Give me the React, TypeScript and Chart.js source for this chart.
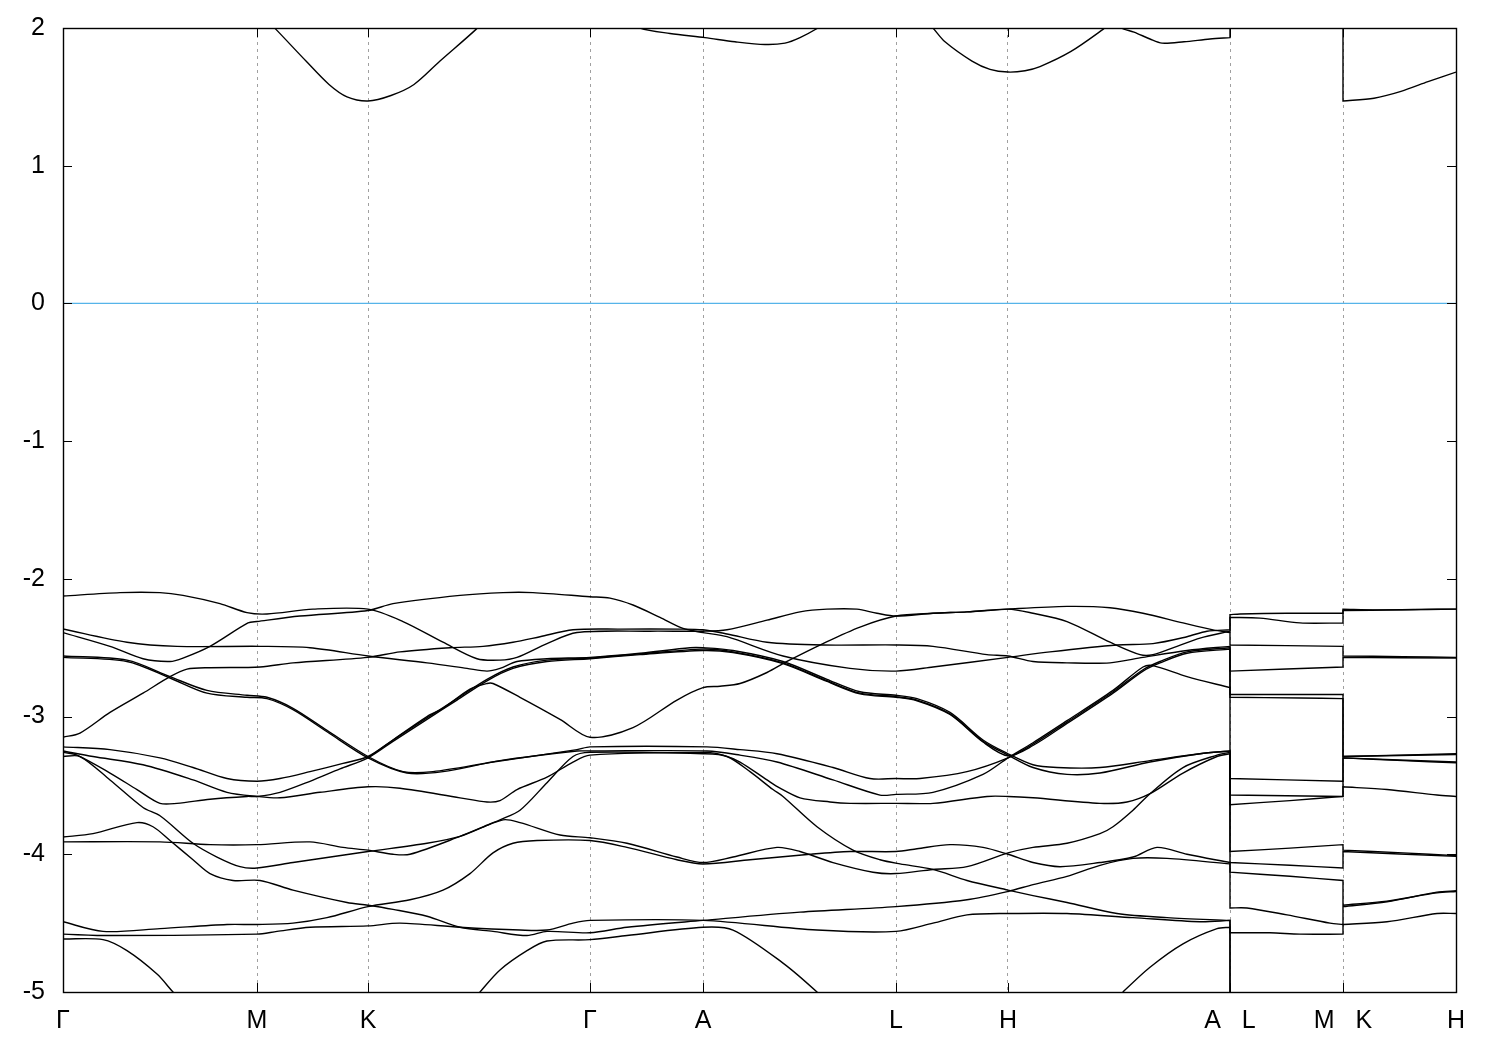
import React, { useEffect, useRef } from 'react';
import { Chart, registerables } from 'chart.js';

Chart.register(...registerables);

type Pt = [number, number];

// k-path positions of the high-symmetry points and their labels
const symK = [0, 0.97, 1.525, 2.635, 3.2, 4.165, 4.725, 5.835, 6.4, 6.965];
const symLabels = ['Γ', 'M', 'K', 'Γ', 'A', 'L', 'H', 'A   L', 'M   K', 'H'];
const yTickValues = [-5, -4, -3, -2, -1, 0, 1, 2];

// Valence bands (k, E in eV)
const band01: Pt[] = [
  [0, -2.125], [0.285, -2.1], [0.485, -2.1], [0.6, -2.12], [0.785, -2.18], [0.92, -2.245], [1.02, -2.255], [1.25, -2.22], [1.525, -2.22],
  [1.7, -2.31], [1.9, -2.46], [2.07, -2.58], [2.185, -2.59], [2.27, -2.57], [2.42, -2.47], [2.57, -2.39], [2.935, -2.38], [3.2, -2.38],
  [3.32, -2.37], [3.52, -2.3], [3.685, -2.24], [3.82, -2.22], [3.97, -2.22], [4.07, -2.25], [4.165, -2.27],
  [4.35, -2.25], [4.52, -2.24], [4.725, -2.22],
  [5.02, -2.2], [5.235, -2.21], [5.4, -2.25], [5.6, -2.32], [5.75, -2.37], [5.835, -2.39],
  [5.835, -2.48], [6.4, -2.49], [6.4, -2.56], [6.7, -2.565], [6.965, -2.57],
];
const band02: Pt[] = [
  [0, -2.39], [0.235, -2.49], [0.4, -2.58], [0.535, -2.6], [0.6, -2.575], [0.735, -2.49], [0.925, -2.32], [0.97, -2.31], [1.185, -2.27], [1.525, -2.23],
  [1.65, -2.18], [1.985, -2.12], [2.2, -2.1], [2.35, -2.1], [2.635, -2.13], [2.735, -2.14], [2.85, -2.19], [2.985, -2.28], [3.1, -2.36], [3.2, -2.39],
  [3.32, -2.42], [3.6, -2.56], [3.935, -2.65], [4.165, -2.67],
  [4.35, -2.64], [4.725, -2.57],
  [4.935, -2.53], [5.27, -2.48], [5.45, -2.47], [5.62, -2.42], [5.72, -2.38], [5.835, -2.37],
  [5.835, -2.26], [5.885, -2.255], [6.12, -2.25], [6.4, -2.25], [6.4, -2.22], [6.57, -2.225], [6.87, -2.22], [6.965, -2.22],
];
const band03: Pt[] = [
  [0, -2.364], [0.32, -2.46], [0.57, -2.49], [0.985, -2.49], [1.235, -2.5], [1.525, -2.56],
  [1.82, -2.61], [2.02, -2.65], [2.12, -2.67], [2.185, -2.65], [2.27, -2.6], [2.42, -2.58], [2.635, -2.57],
  [2.885, -2.54], [3.135, -2.5], [3.2, -2.5],
  [3.35, -2.52], [3.6, -2.6], [3.82, -2.73], [3.985, -2.82], [4.165, -2.845],
  [4.27, -2.87], [4.435, -2.97], [4.6, -3.17], [4.725, -3.27],
  [4.85, -3.35], [4.97, -3.37], [5.185, -3.37], [5.435, -3.32], [5.685, -3.27], [5.835, -3.25],
  [5.835, -3.57], [6.4, -3.58], [6.4, -3.3], [6.7, -3.32], [6.965, -3.335],
];
const band04: Pt[] = [
  [0, -3.15], [0.085, -3.12], [0.235, -2.97], [0.4, -2.83], [0.535, -2.71], [0.62, -2.655], [0.735, -2.645], [0.985, -2.64], [1.15, -2.61], [1.525, -2.57],
  [1.685, -2.53], [1.935, -2.5], [2.1, -2.49], [2.25, -2.46], [2.385, -2.42], [2.55, -2.37], [2.785, -2.365], [3.085, -2.365], [3.2, -2.37],
  [3.32, -2.4], [3.52, -2.46], [3.8, -2.48], [4.165, -2.48],
  [4.35, -2.49], [4.62, -2.55], [4.725, -2.56],
  [4.85, -2.6], [5.02, -2.61], [5.235, -2.61], [5.4, -2.57], [5.62, -2.52], [5.835, -2.49],
  [5.835, -2.67], [6.4, -2.64], [6.4, -2.57], [6.965, -2.575],
];
const band05: Pt[] = [
  [0, -2.56], [0.32, -2.59], [0.535, -2.71], [0.72, -2.81], [0.92, -2.845], [1.02, -2.86], [1.15, -2.94], [1.32, -3.1], [1.525, -3.29],
  [1.7, -3.4], [1.85, -3.4], [2.15, -3.33], [2.57, -3.24], [2.635, -3.22],
  [3.22, -3.22],
  [3.385, -3.24], [3.57, -3.27], [3.85, -3.37], [4.035, -3.45], [4.165, -3.45],
  [4.285, -3.45], [4.52, -3.4], [4.725, -3.3],
  [4.85, -3.2], [5.02, -3.04], [5.25, -2.82], [5.4, -2.66], [5.485, -2.6], [5.62, -2.53], [5.835, -2.5],
  [5.835, -2.84], [6.4, -2.84], [6.4, -3.29], [6.965, -3.27],
];
const band06: Pt[] = [
  [0, -2.57], [0.32, -2.6], [0.535, -2.72], [0.72, -2.83], [0.92, -2.86], [1.02, -2.87], [1.15, -2.95], [1.32, -3.11], [1.525, -3.3],
  [1.72, -3.41], [1.9, -3.4], [2.185, -3.32], [2.57, -3.25], [2.635, -3.25],
  [3.22, -3.25],
  [3.385, -3.28], [3.57, -3.33], [3.85, -3.46], [4.085, -3.57], [4.165, -3.565],
  [4.35, -3.55], [4.6, -3.42], [4.725, -3.3],
  [4.85, -3.19], [5.02, -3.03], [5.25, -2.81], [5.4, -2.64], [5.45, -2.63], [5.62, -2.71], [5.835, -2.79],
  [5.835, -3.45], [6.4, -3.47], [6.4, -3.3], [6.965, -3.33],
];
const band07: Pt[] = [
  [0, -3.22], [0.235, -3.24], [0.485, -3.3], [0.65, -3.37], [0.82, -3.45], [0.97, -3.47], [1.085, -3.45], [1.235, -3.4], [1.4, -3.34], [1.525, -3.29],
  [1.65, -3.17], [1.82, -3.01], [1.97, -2.87], [2.12, -2.73], [2.25, -2.64], [2.42, -2.59], [2.635, -2.575],
  [2.885, -2.545], [3.2, -2.51],
  [3.35, -2.53], [3.6, -2.61], [3.82, -2.74], [3.985, -2.83], [4.165, -2.855],
  [4.27, -2.88], [4.435, -2.98], [4.6, -3.18], [4.725, -3.28],
  [4.85, -3.37], [5.02, -3.42], [5.185, -3.41], [5.435, -3.33], [5.685, -3.27], [5.835, -3.25],
  [5.835, -3.64], [6.135, -3.61], [6.4, -3.58], [6.4, -3.51], [6.62, -3.53], [6.87, -3.57], [6.965, -3.58],
];
const band08: Pt[] = [
  [0, -3.25], [0.15, -3.29], [0.4, -3.35], [0.65, -3.46], [0.82, -3.55], [0.97, -3.58], [1.085, -3.59], [1.285, -3.55], [1.525, -3.51],
  [1.685, -3.52], [1.985, -3.59], [2.12, -3.62], [2.185, -3.61], [2.27, -3.53], [2.42, -3.44], [2.55, -3.33], [2.635, -3.28],
  [3.22, -3.26],
  [3.3, -3.28], [3.385, -3.33], [3.52, -3.46], [3.585, -3.52], [3.685, -3.59], [3.835, -3.62], [3.935, -3.63], [4.165, -3.63],
  [4.35, -3.63], [4.62, -3.58], [4.725, -3.58],
  [4.85, -3.59], [5.185, -3.63], [5.32, -3.62], [5.435, -3.56], [5.6, -3.41], [5.77, -3.29], [5.835, -3.27],
  [5.835, -4.06], [6.135, -4.08], [6.4, -4.1], [6.4, -3.98], [6.965, -4.015],
];
const band09: Pt[] = [
  [0, -3.26], [0.07, -3.28], [0.235, -3.41], [0.37, -3.53], [0.485, -3.63], [0.57, -3.63], [0.735, -3.6], [0.92, -3.58], [0.97, -3.58], [1.085, -3.55], [1.235, -3.47], [1.385, -3.38], [1.525, -3.3],
  [1.65, -3.18], [1.82, -3.02], [1.97, -2.88], [2.12, -2.74], [2.25, -2.65], [2.42, -2.6], [2.635, -2.58],
  [2.885, -2.55], [3.2, -2.52],
  [3.35, -2.535], [3.6, -2.615], [3.82, -2.745], [3.985, -2.835], [4.165, -2.86],
  [4.27, -2.885], [4.435, -2.985], [4.6, -3.185], [4.725, -3.285],
  [4.85, -3.21], [5.02, -3.05], [5.25, -2.83], [5.4, -2.67], [5.485, -2.61], [5.62, -2.54], [5.835, -2.51],
  [5.835, -2.86], [6.185, -2.865], [6.4, -2.87], [6.4, -3.29], [6.965, -3.275],
];
const band10: Pt[] = [
  [0, -3.29], [0.085, -3.29], [0.235, -3.46], [0.4, -3.66], [0.485, -3.72], [0.65, -3.92], [0.77, -4.02], [0.885, -4.09], [0.97, -4.1], [1.15, -4.06], [1.525, -3.98],
  [1.82, -3.92], [1.985, -3.87], [2.2, -3.75], [2.285, -3.77], [2.485, -3.86], [2.635, -3.88],
  [2.82, -3.92], [3.07, -4.02], [3.2, -4.06],
  [3.35, -4.02], [3.57, -3.95], [3.685, -3.98], [3.85, -4.06], [4.05, -4.13], [4.165, -4.14],
  [4.35, -4.11], [4.52, -4.09], [4.725, -3.99],
  [4.85, -3.95], [5.02, -3.92], [5.185, -3.85], [5.25, -3.8], [5.35, -3.68], [5.435, -3.56], [5.6, -3.37], [5.77, -3.28], [5.835, -3.26],
  [5.835, -3.98], [6.135, -3.955], [6.4, -3.93], [6.4, -3.97], [6.7, -3.99], [6.965, -4.01],
];
const band11: Pt[] = [
  [0, -3.875], [0.15, -3.85], [0.37, -3.77], [0.45, -3.8], [0.535, -3.9], [0.65, -4.04], [0.735, -4.14], [0.85, -4.19], [0.985, -4.19], [1.15, -4.26], [1.42, -4.35], [1.525, -4.37],
  [1.65, -4.4], [1.82, -4.45], [1.985, -4.53], [2.15, -4.56], [2.32, -4.59], [2.42, -4.56], [2.635, -4.57],
  [2.82, -4.53], [3.2, -4.48],
  [3.685, -4.42], [4.165, -4.38],
  [4.52, -4.33], [4.725, -4.27],
  [4.85, -4.22], [5.02, -4.16], [5.185, -4.08], [5.35, -4.03], [5.52, -4.03], [5.835, -4.07],
  [5.835, -4.39], [5.92, -4.39], [6.12, -4.44], [6.335, -4.5], [6.4, -4.51], [6.4, -4.38], [6.62, -4.345], [6.87, -4.275], [6.965, -4.265],
];
const band12: Pt[] = [
  [0, -3.91], [0.485, -3.91], [0.735, -3.93], [0.97, -3.93], [1.235, -3.91], [1.4, -3.95], [1.525, -3.97],
  [1.65, -4.0], [1.735, -4.0], [1.985, -3.87], [2.135, -3.78], [2.185, -3.75], [2.285, -3.68], [2.42, -3.48], [2.55, -3.29], [2.635, -3.26],
  [3.2, -3.27],
  [3.32, -3.29], [3.435, -3.4], [3.55, -3.53], [3.6, -3.58], [3.77, -3.8], [3.95, -3.97], [4.085, -4.04], [4.185, -4.07],
  [4.35, -4.11], [4.52, -4.19], [4.725, -4.26],
  [4.85, -4.3], [5.02, -4.35], [5.27, -4.43], [5.52, -4.46], [5.835, -4.48],
  [5.835, -4.57], [6.035, -4.57], [6.185, -4.58], [6.4, -4.58], [6.4, -4.51], [6.62, -4.49], [6.87, -4.43], [6.965, -4.43],
];
const band13: Pt[] = [
  [0, -4.49], [0.2, -4.56], [0.485, -4.54], [0.82, -4.51], [0.97, -4.51], [1.15, -4.5], [1.32, -4.46], [1.525, -4.38],
  [1.735, -4.33], [1.9, -4.26], [2.035, -4.14], [2.15, -3.99], [2.25, -3.92], [2.37, -3.9], [2.635, -3.9],
  [2.82, -3.95], [3.07, -4.04], [3.2, -4.07],
  [3.435, -4.04], [3.735, -4.0], [3.935, -3.98], [4.165, -3.98],
  [4.27, -3.96], [4.435, -3.93], [4.6, -3.95], [4.725, -4.0],
  [4.85, -4.06], [4.985, -4.09], [5.185, -4.06], [5.35, -4.02], [5.47, -3.95], [5.62, -4.0], [5.835, -4.06],
  [5.835, -4.13], [6.135, -4.16], [6.4, -4.19], [6.4, -4.37], [6.62, -4.34], [6.87, -4.28], [6.965, -4.27],
];
const band14: Pt[] = [
  [0, -4.58], [0.235, -4.59], [0.97, -4.58], [1.07, -4.56], [1.235, -4.53], [1.525, -4.52],
  [1.685, -4.5], [1.985, -4.53], [2.285, -4.55], [2.42, -4.55], [2.55, -4.5], [2.635, -4.48],
  [3.2, -4.48],
  [3.77, -4.55], [4.165, -4.56],
  [4.35, -4.5], [4.52, -4.44], [4.725, -4.43],
  [5.02, -4.43], [5.35, -4.46], [5.685, -4.49], [5.835, -4.48],
  [5.835, -5.4],
];
const band15: Pt[] = [
  [0, -4.615], [0.2, -4.62], [0.32, -4.7], [0.47, -4.87], [0.55, -5.0], [0.635, -5.13], [2.01, -5.13], [2.085, -5.0], [2.185, -4.84], [2.32, -4.7], [2.42, -4.63], [2.635, -4.62],
  [2.82, -4.59], [3.2, -4.53],
  [3.35, -4.55], [3.6, -4.79], [3.77, -5.0], [3.835, -5.1], [5.235, -5.1], [5.3, -5.0], [5.435, -4.82], [5.6, -4.65], [5.77, -4.54], [5.835, -4.53],
  [5.835, -5.4],
];
const band16: Pt[] = [
  [1.525, -3.3], [1.65, -3.17], [1.82, -3.0], [1.9, -2.94], [2.035, -2.8], [2.12, -2.76], [2.15, -2.76], [2.285, -2.86], [2.485, -3.02], [2.635, -3.15], [2.85, -3.08], [3.07, -2.88], [3.2, -2.79],
  [3.285, -2.78], [3.385, -2.76], [3.52, -2.68], [3.62, -2.6], [3.8, -2.47], [3.985, -2.35], [4.165, -2.27],
  [4.35, -2.25], [4.52, -2.24], [4.725, -2.22],
  [4.85, -2.25], [5.02, -2.31], [5.235, -2.46], [5.385, -2.55], [5.45, -2.55], [5.57, -2.49], [5.685, -2.43], [5.835, -2.38],
  [5.835, -2.28], [5.985, -2.285], [6.185, -2.32], [6.4, -2.32], [6.4, -2.23], [6.685, -2.225], [6.965, -2.22],
];

// Conduction bands
const cond1: Pt[] = [
  [0.97, 2.13], [1.065, 1.99], [1.215, 1.76], [1.33, 1.59], [1.42, 1.5], [1.525, 1.47], [1.64, 1.51], [1.755, 1.59], [1.885, 1.76], [2.065, 1.99], [2.16, 2.13],
];
const cond2: Pt[] = [
  [2.76, 2.1], [2.885, 2.0], [3.035, 1.96], [3.21, 1.93], [3.36, 1.9], [3.51, 1.88], [3.61, 1.89], [3.685, 1.93], [3.775, 2.0], [3.835, 2.06],
];
const cond3: Pt[] = [
  [4.285, 2.1], [4.35, 2.0], [4.41, 1.9], [4.545, 1.76], [4.635, 1.7], [4.725, 1.68], [4.81, 1.69], [4.885, 1.72], [5.04, 1.83], [5.2, 1.99], [5.26, 2.06],
];
const cond4: Pt[] = [
  [5.235, 2.06], [5.29, 2.0], [5.355, 1.97], [5.435, 1.92], [5.495, 1.89], [5.605, 1.9], [5.735, 1.92], [5.835, 1.93],
  [5.835, 2.5], [6.4, 2.5], [6.4, 1.47], [6.555, 1.49], [6.69, 1.54], [6.825, 1.61], [6.965, 1.68],
];

const fermiLevel: Pt[] = [[0, 0], [6.965, 0]];

const bands = [band01, band02, band03, band04, band05, band06, band07, band08, band09, band10, band11, band12, band13, band14, band15, band16, cond1, cond2, cond3, cond4];

const FONT = "'Liberation Sans Narrow', 'Liberation Sans', Arial, sans-serif";

// Repeat the two end points of every vertical jump so the smoothed curve keeps the jump straight
function toSeries(b: Pt[]) {
  const out: { x: number; y: number }[] = [];
  for (let i = 0; i < b.length; i++) {
    const [x, y] = b[i];
    const jumpNext = i + 1 < b.length && b[i + 1][0] === x;
    const jumpPrev = i > 0 && b[i - 1][0] === x;
    out.push({ x, y });
    if (jumpNext || jumpPrev) out.push({ x, y });
  }
  return out;
}

const framePlugin = {
  id: 'gnuFrame',
  afterDraw(chart: any) {
    const { ctx, chartArea, scales } = chart;
    const { left, right, top, bottom } = chartArea;
    const tl = 9;
    ctx.save();
    ctx.strokeStyle = '#000';
    ctx.lineWidth = 1;
    ctx.beginPath();
    for (const v of yTickValues) {
      const py = Math.round(scales.y.getPixelForValue(v)) + 0.5;
      ctx.moveTo(left, py); ctx.lineTo(left + tl, py);
      ctx.moveTo(right, py); ctx.lineTo(right - tl, py);
    }
    for (const v of symK) {
      const px = Math.round(scales.x.getPixelForValue(v)) + 0.5;
      ctx.moveTo(px, bottom); ctx.lineTo(px, bottom - tl);
      ctx.moveTo(px, top); ctx.lineTo(px, top + tl);
    }
    ctx.stroke();
    ctx.lineWidth = 1.4;
    ctx.strokeRect(left + 0.5, top + 0.5, right - left, bottom - top);
    ctx.restore();
  },
};

export default function App() {
  const ref = useRef<HTMLCanvasElement | null>(null);
  useEffect(() => {
    if (!ref.current) return;
    const datasets: any[] = bands.map((b) => ({
      data: toSeries(b),
      borderColor: '#000',
      borderWidth: 1.4,
      pointRadius: 0,
      tension: 0.3,
      capBezierPoints: false,
      fill: false,
    }));
    datasets.push({
      data: fermiLevel.map(([x, y]) => ({ x, y })),
      borderColor: '#56b4e9',
      borderWidth: 1.3,
      pointRadius: 0,
      fill: false,
    });
    const chart = new Chart(ref.current, {
      type: 'line',
      data: { datasets },
      plugins: [framePlugin],
      options: {
        responsive: false,
        animation: false,
        devicePixelRatio: 1,
        layout: { padding: { top: 28, right: 44, left: 0, bottom: 0 } },
        plugins: { legend: { display: false }, tooltip: { enabled: false } },
        events: [],
        scales: {
          x: {
            type: 'linear',
            min: 0,
            max: 6.965,
            afterBuildTicks: (s: any) => { s.ticks = symK.map((v) => ({ value: v })); },
            afterFit: (s: any) => { s.height = 58; s.paddingLeft = 0; s.paddingRight = 0; },
            ticks: {
              autoSkip: false,
              maxRotation: 0,
              padding: 14,
              color: '#000',
              font: { family: FONT, size: 25 },
              callback: (v: any) => {
                const i = symK.findIndex((k) => Math.abs(k - Number(v)) < 1e-6);
                return i >= 0 ? symLabels[i] : '';
              },
            },
            grid: { color: '#a0a0a0', lineWidth: 1, drawTicks: false },
            border: { display: false, dash: [3, 4] },
          },
          y: {
            type: 'linear',
            min: -5,
            max: 2,
            afterBuildTicks: (s: any) => { s.ticks = yTickValues.map((v) => ({ value: v })); },
            afterFit: (s: any) => { s.width = 63; s.paddingTop = 0; s.paddingBottom = 0; },
            ticks: {
              padding: 18,
              color: '#000',
              font: { family: FONT, size: 25 },
              callback: (v: any) => String(v),
            },
            grid: { display: false, drawTicks: false },
            border: { display: false },
          },
        },
      },
    });
    return () => chart.destroy();
  }, []);
  return (
    <div style={{ position: 'absolute', left: 0, top: 0, width: 1500, height: 1050, background: '#fff' }}>
      <canvas ref={ref} width={1500} height={1050} style={{ width: 1500, height: 1050, display: 'block' }} />
    </div>
  );
}
